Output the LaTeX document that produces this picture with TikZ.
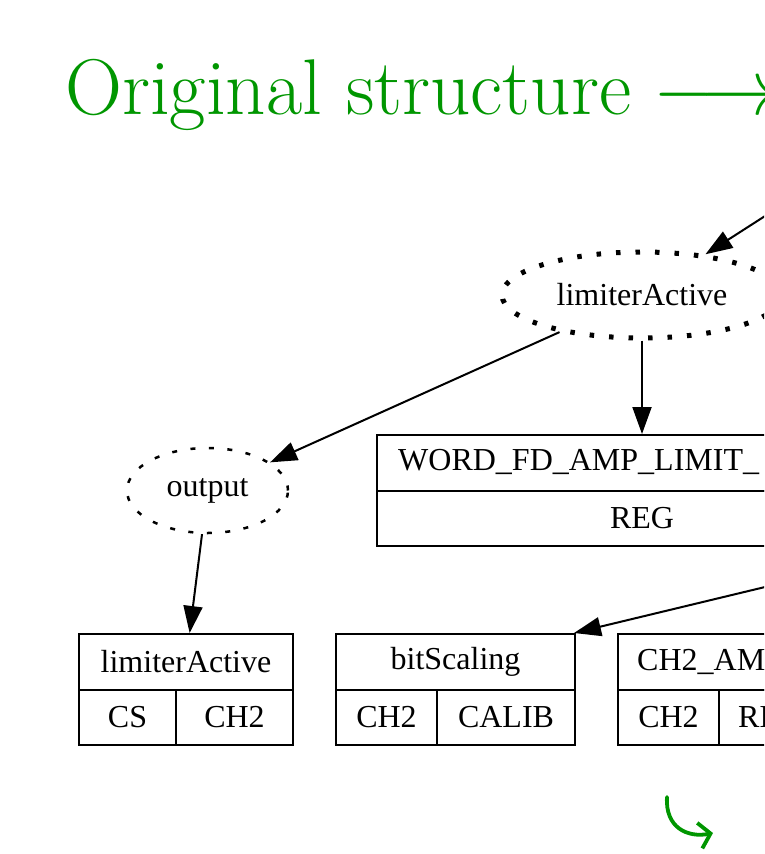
\documentclass[tikz,border=0pt]{standalone}
\usepackage{fontspec}
\newfontfamily\gvfont{Liberation Serif}
\usetikzlibrary{arrows.meta,shapes.geometric}
\definecolor{titlegreen}{RGB}{0,150,0}

\begin{document}
\begin{tikzpicture}[x=1pt,y=-1pt,
  gv/.style={font=\gvfont\fontsize{32}{38}\selectfont},
  cell/.style={gv, draw, line width=2pt, inner sep=0pt},
  label/.style={gv, inner sep=0pt, anchor=west},
  edge/.style={line width=2pt, -{Triangle[length=27pt,width=19pt]}},
  thickdots/.style={gv, ellipse, draw, line width=5pt, dash pattern=on 4.5pt off 15pt, inner sep=0pt},
  thindash/.style={gv, ellipse, draw, line width=2.5pt, dash pattern=on 5pt off 13.5pt, inner sep=0pt}
]
\useasboundingbox (0,0) rectangle (764,854);
\clip (0,0) rectangle (764,854);

% heading
\node[anchor=base west, inner sep=0pt, text=titlegreen,
      font=\fontsize{79}{86}\selectfont] (title) at (65,114)
      {Original structure\hspace{-2pt} \scalebox{7.9}{\fontsize{10}{12}\selectfont$\longrightarrow$}};

% ellipse nodes
\node[thickdots, minimum width=280, minimum height=86] (lim) at (642,295) {limiterActive};
\node[thindash, minimum width=161, minimum height=85] (out) at (207.5,490.5) {output};

% register box
\node[cell, minimum width=530, minimum height=56] (word) at (642,463) {};
\node[label] (wordtxt) at (398,462) {WORD\_FD\_AMP\_LIMIT\_};
\node[cell, minimum width=530, minimum height=55] (wordreg) at (642,518.5) {REG};

% limiterActive record
\node[cell, minimum width=214, minimum height=56] (labox) at (186,662) {limiterActive};
\node[cell, minimum width=97, minimum height=55] (lacs) at (127.5,717.5) {CS};
\node[cell, minimum width=117, minimum height=55] (lach) at (234.5,717.5) {CH2};

% bitScaling record
\node[cell, minimum width=239, minimum height=56] (bs) at (455.5,662) {bitScaling};
\node[cell, minimum width=101, minimum height=55] (bsch) at (386.5,717.5) {CH2};
\node[cell, minimum width=138, minimum height=55] (bscal) at (506,717.5) {CALIB};

% CH2_AM... record
\node[cell, minimum width=282, minimum height=56] (amp) at (759,662) {};
\node[label] (amptxt) at (637,662) {CH2\_AM};
\node[cell, minimum width=101, minimum height=55] (ampch) at (668.5,717.5) {CH2};
\node[cell, minimum width=181, minimum height=55] (ampreg) at (809.5,717.5) {};
\node[label] (ampregtxt) at (738,717.5) {REG};

% incoming edges from the right
\coordinate (in1) at (790,200);
\coordinate (in2) at (790,581);

\draw[edge] (in1) -- (lim);
\draw[edge] (lim.south -| word.north) -- (word.north);
\draw[edge] (lim) -- (out);
\draw[edge] (out) -- (labox);
\draw[edge] (in2) -- ([xshift=-2pt]bs.north east);

% green turn arrow
\coordinate (turnA) at (667,797);
\coordinate (turnB) at (713,833);
\draw[titlegreen, line width=3.8pt, line cap=round,
      -{Straight Barb[length=11pt,width=26pt,line width=3.8pt]}]
  (turnA) .. controls (665,828) and (688,838) .. (turnB);
\end{tikzpicture}
\end{document}
